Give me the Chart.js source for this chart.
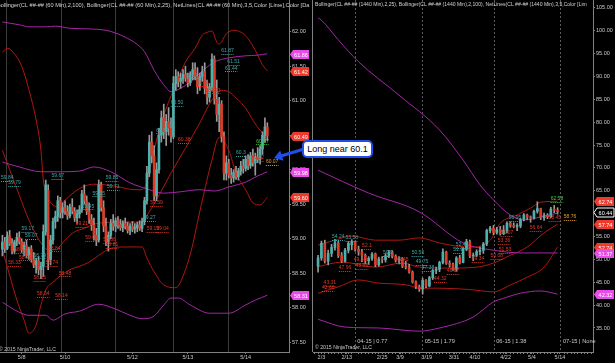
<!DOCTYPE html>
<html>
<head>
<meta charset="utf-8">
<script src="https://cdn.jsdelivr.net/npm/chart.js@4.4.1/dist/chart.umd.min.js"></script>
<style>
  body { margin: 0; background: #000; width: 615px; height: 363px; overflow: hidden; position: relative; font-family: "Liberation Sans", Arial, sans-serif; }
  #left { position: absolute; left: 0; top: 0; }
  #right { position: absolute; left: 311px; top: 0; }
  #arrow { position: absolute; left: 270px; top: 140px; }
  #note { position: absolute; left: 302px; top: 140px; width: 67px; height: 14px; background: #fff; border: 2px solid #1f4fe8; border-radius: 5px; font-size: 9px; line-height: 14px; text-align: center; color: #000; }
</style>
</head>
<body>
<canvas id="left" width="312" height="363"></canvas>
<canvas id="right" width="304" height="363"></canvas>
<svg id="arrow" width="40" height="25">
  <line x1="34" y1="9" x2="11" y2="16" stroke="#1f4fe8" stroke-width="3"/>
  <polygon points="4,18 13.5,20.8 10.2,10.6" fill="#1f4fe8"/>
</svg>
<div id="note">Long near 60.1</div>
<script>
// ---- 60 min panel (bar index 0..110) ----
const leftOpen = [58.85,58.95,58.86,59.04,58.93,58.82,58.95,59.02,58.96,58.84,
  58.90,58.76,58.85,58.70,58.62,58.68,58.55,58.60,59.10,59.70,
  58.70,58.98,59.25,59.32,59.55,59.38,59.45,59.40,59.33,59.46,
  59.40,59.30,59.36,59.42,59.65,59.55,59.40,59.28,59.20,59.05,
  58.98,59.78,59.45,59.18,58.96,59.05,59.22,59.18,59.26,59.20,
  59.16,59.22,59.18,59.12,59.18,59.14,59.16,59.20,59.15,59.25,
  59.55,59.95,60.40,60.20,59.62,60.00,60.50,60.75,60.55,60.70,
  60.60,60.48,61.25,61.35,61.28,61.32,61.38,61.33,61.26,61.38,
  61.45,61.35,61.20,61.35,61.42,61.18,61.05,61.20,61.60,61.02,
  60.80,60.95,60.48,59.95,60.10,59.92,59.88,59.96,59.90,59.98,
  60.05,60.02,60.15,60.06,60.20,60.10,60.18,60.15,60.30,60.50,60.62];
const leftHigh = [59.05,59.02,59.10,59.12,59.00,58.98,59.08,59.10,59.00,58.95,
  58.98,58.88,58.90,58.80,58.72,58.74,58.66,59.20,59.85,59.78,
  59.05,59.30,59.40,59.62,59.60,59.52,59.55,59.48,59.50,59.58,
  59.45,59.42,59.48,59.70,59.78,59.62,59.52,59.35,59.30,59.15,
  59.85,59.82,59.55,59.30,59.10,59.28,59.35,59.30,59.32,59.28,
  59.26,59.30,59.24,59.22,59.25,59.22,59.24,59.26,59.30,59.60,
  60.05,60.50,60.55,60.35,60.10,60.60,60.85,60.95,60.80,60.90,
  60.75,61.35,61.45,61.42,61.40,61.45,61.50,61.40,61.42,61.55,
  61.55,61.48,61.40,61.50,61.55,61.30,61.25,61.68,61.65,61.30,
  61.05,61.00,60.55,60.20,60.15,60.02,60.00,60.05,60.02,60.12,
  60.15,60.20,60.22,60.25,60.30,60.24,60.32,60.35,60.55,60.75,60.68];
const leftLow = [58.75,58.80,58.84,58.90,58.78,58.78,58.90,58.92,58.80,58.75,
  58.72,58.70,58.66,58.58,58.50,58.48,58.42,58.45,59.05,58.55,
  58.62,58.92,59.15,59.25,59.30,59.30,59.35,59.28,59.30,59.36,
  59.25,59.22,59.30,59.38,59.50,59.35,59.22,59.12,58.98,58.90,
  58.95,59.40,59.10,58.90,58.82,59.00,59.12,59.10,59.15,59.12,
  59.10,59.14,59.08,59.06,59.10,59.08,59.10,59.12,59.10,59.20,
  59.50,59.90,60.10,59.55,59.55,59.95,60.40,60.45,60.35,60.50,
  60.40,60.45,61.15,61.20,61.18,61.25,61.28,61.20,61.22,61.30,
  61.30,61.10,61.15,61.28,61.10,60.95,60.98,61.15,60.95,60.70,
  60.55,60.40,59.85,59.85,59.88,59.80,59.82,59.86,59.85,59.92,
  59.95,59.98,60.00,60.02,60.05,59.92,60.10,60.08,60.22,60.40,60.42];
const leftClose = [58.95,58.86,59.04,58.93,58.82,58.95,59.02,58.96,58.84,58.90,
  58.76,58.85,58.70,58.62,58.68,58.55,58.60,59.10,59.78,58.70,
  58.98,59.25,59.32,59.55,59.38,59.45,59.40,59.33,59.46,59.40,
  59.30,59.36,59.42,59.65,59.55,59.40,59.28,59.20,59.05,58.98,
  59.78,59.45,59.18,58.96,59.05,59.22,59.18,59.26,59.20,59.16,
  59.22,59.18,59.12,59.18,59.14,59.16,59.20,59.15,59.25,59.55,
  59.95,60.40,60.20,59.62,60.00,60.50,60.75,60.55,60.70,60.60,
  60.48,61.25,61.35,61.28,61.32,61.38,61.33,61.26,61.38,61.45,
  61.35,61.20,61.35,61.42,61.18,61.05,61.20,61.60,61.02,60.80,
  60.95,60.48,59.95,60.10,59.92,59.88,59.96,59.90,59.98,60.05,
  60.02,60.15,60.06,60.20,60.10,60.18,60.15,60.30,60.50,60.62,60.49];

// bollinger lines as [bar, price]
const leftRedUpper = [[0,61.70],[2,61.76],[5,61.68],[8,61.50],[11,61.16],[14,60.72],[16,60.28],[17,59.85],[19,59.59],[21,59.49],[23,59.46],[26,59.56],[30,59.68],[34,59.76],[38,59.79],[47,59.76],[55,59.71],[58,59.71],[60,59.82],[63,60.29],[67,60.79],[72,61.23],[76,61.56],[80,61.76],[83,61.95],[85,61.99],[87,62.01],[89,61.85],[90,61.82],[93,61.97],[96,62.02],[101,61.94],[105,61.73],[108,61.52],[110,61.43]];
const leftRedMid = [[0,60.28],[3,60.00],[7,59.63],[11,59.27],[16,58.94],[19,58.84],[22,58.84],[26,58.98],[30,59.10],[34,59.15],[38,59.21],[47,59.24],[58,59.24],[61,59.39],[65,59.63],[70,59.95],[76,60.31],[82,60.68],[87,61.01],[91,61.15],[94,61.13],[97,61.04],[101,60.89],[104,60.72],[107,60.57],[110,60.49]];
const leftRedLower = [[0,58.84],[3,58.47],[6,58.11],[9,57.82],[11,57.63],[14,57.75],[16,58.04],[18,58.26],[21,58.37],[24,58.46],[28,58.55],[32,58.60],[36,58.66],[40,58.76],[45,58.86],[51,58.88],[58,58.88],[60,58.72],[63,58.52],[67,58.33],[72,58.29],[76,58.55],[79,58.91],[81,59.24],[84,59.71],[87,60.14],[90,60.47],[94,60.28],[97,59.95],[101,59.71],[104,59.52],[107,59.49],[110,59.60]];
const leftMagUpper = [[0,62.14],[7,62.10],[11,62.07],[18,62.07],[22,62.08],[28,62.05],[36,62.04],[43,62.02],[47,61.98],[51,61.92],[55,61.84],[59,61.71],[63,61.44],[67,61.23],[70,61.13],[74,61.18],[78,61.27],[82,61.40],[88,61.56],[94,61.62],[101,61.65],[106,61.66],[110,61.68]];
const leftMagMid = [[0,60.11],[7,60.04],[16,59.97],[24,59.97],[32,59.98],[38,60.04],[45,59.97],[53,59.81],[61,59.71],[67,59.66],[74,59.68],[82,59.71],[88,59.69],[94,59.75],[101,59.82],[106,59.91],[110,59.97]];
const leftMagLower = [[0,58.08],[5,57.97],[11,57.89],[18,57.89],[21,57.82],[26,57.91],[32,57.95],[40,58.05],[47,57.98],[53,57.89],[58,57.84],[63,57.88],[67,58.04],[70,58.14],[73,58.14],[78,58.04],[86,57.92],[94,57.92],[101,58.04],[105,58.11],[110,58.18]];

const leftYTicks = [57.5,58,58.5,59,59.5,60,60.5,61,61.5,62];
const leftDateLabels = ['5/8','5/10','5/12','5/13','5/14'];
const leftDateAt = [8,26,54,77,101];
const leftDayLines = [1.5,24.5,47,71,94];
const leftTagText = ['61.86','61.42','60.49','59.98','59.60','58.31'];

// NetLines price notes: [bar, price position, text, kind]
const leftNet = [[2,59.88,'59.84','t'],[5,59.81,'59.79','t'],[23,59.91,'59.67','t'],[45.5,59.88,'59.85','t'],[46,59.75,'59.71','t'],[40,59.66,'59.55','t'],[35.5,59.47,'59.45','t'],[10.5,59.14,'59.17','t'],[12,59.04,'59.07','t'],[15.5,58.76,'58.79','t'],[61,59.30,'59.27','t'],[72.5,60.97,'60.50','t'],[66.5,60.57,'60.54','t'],[78.5,61.37,'61.17','t'],[93.5,61.72,'61.87','t'],[96,61.56,'61.51','t'],[95,61.47,'61.44','t'],[99,60.24,'60.3','t'],
  [7.5,58.84,'58.53','r'],[9.5,58.73,'58.42','r'],[5,58.65,'58.33','r'],[21.5,58.86,'58.84','r'],[20.5,58.65,'58.74','r'],[15.5,58.43,'58.55','r'],[26,58.50,'58.48','r'],[17,58.20,'58.34','r'],[24.5,58.17,'58.14','r'],[33,59.22,'59.21','r'],[37,59.01,'59.08','r'],[44.5,58.98,'58.86','r'],[45.5,58.91,'58.81','r'],[62.5,59.14,'59.19','r'],[66.5,59.14,'59.04','r'],[64,59.52,'59.59','r'],[75.5,60.43,'60.38','r'],[83,61.26,'61.14','r'],[88,61.15,'61.13','r'],[106,60.17,'60.12','r'],
  [108,60.41,'60.37','g'],[112,60.11,'60.07','o']];

// ---- 1440 min panel (bar index 1..72) ----
const rightOpen = [48.5,50.3,53.5,49.6,51.3,52.6,53.6,50.8,49.6,52.0,
  53.2,53.9,52.2,51.6,50.9,49.7,50.2,51.2,48.8,50.1,
  49.9,50.8,51.6,50.7,49.8,50.2,48.5,48.3,47.2,45.1,
  44.0,43.5,45.4,44.2,46.0,47.6,47.8,49.3,51.6,49.1,
  48.9,47.8,50.3,49.3,52.2,53.9,50.7,50.9,51.7,52.0,
  53.4,56.3,56.8,55.9,56.5,55.6,56.4,57.9,57.3,57.2,
  57.3,58.7,59.7,59.2,59.0,60.5,61.1,59.1,59.6,59.3,61.0,60.7];
const rightHigh = [50.9,54.0,54.2,52.0,53.3,54.4,54.0,51.5,52.4,53.9,
  54.3,54.0,52.9,52.2,51.2,50.6,51.5,51.4,50.5,50.6,
  51.2,52.0,51.9,51.0,50.6,50.4,49.6,48.9,47.5,45.3,
  44.4,45.9,45.6,46.3,47.8,48.3,49.6,52.3,51.8,49.7,
  49.2,50.6,50.9,52.6,54.4,54.2,51.4,52.1,52.7,53.7,
  56.6,57.2,57.4,57.0,57.2,57.4,58.2,58.2,58.0,57.8,
  59.0,60.0,59.9,59.5,60.8,62.6,61.2,60.1,60.0,61.4,61.8,61.3];
const rightLow = [47.2,49.8,49.2,48.8,50.6,52.0,50.4,49.3,49.4,51.4,
  52.1,51.8,50.9,49.5,49.0,48.9,49.8,48.4,48.5,49.2,
  49.4,50.4,50.3,49.4,49.0,48.2,47.9,47.0,44.8,43.6,
  43.0,42.4,43.8,44.0,45.6,46.9,47.3,49.0,48.9,48.3,
  47.6,47.4,49.0,49.2,51.9,50.4,49.7,50.6,51.0,51.3,
  53.0,55.8,55.4,55.5,55.3,55.4,55.8,57.0,56.9,56.3,
  56.9,58.4,58.7,58.1,58.8,60.1,58.7,58.5,58.9,59.1,60.2,59.9];
const rightClose = [50.3,53.5,49.6,51.3,52.6,53.6,50.8,49.6,52.0,53.5,
  53.9,52.2,51.6,50.9,49.7,50.2,51.2,48.8,50.1,49.9,
  50.8,51.6,50.7,49.8,50.2,48.5,48.3,47.2,45.1,44.0,
  43.5,45.4,44.2,46.0,47.6,47.8,49.3,51.6,49.1,48.9,
  47.8,50.3,49.3,52.2,53.9,50.7,50.9,51.7,52.0,53.4,
  56.3,56.8,55.9,56.5,55.6,56.4,57.9,57.3,57.2,57.3,
  58.7,59.7,59.2,59.0,60.5,61.1,59.1,59.6,59.3,61.0,60.7,60.44];

const rightRedUpper = [[1,53.1],[6,54.2],[11,55.1],[18,54.2],[25,54.2],[31,54.7],[37,53.6],[42,52.9],[47,52.7],[52,54.2],[55,57.9],[60,59.7],[64,61.2],[67,62.5],[72,62.7]];
const rightRedMid = [[1,48.4],[8,49.4],[18,48.3],[26,49.2],[31,48.3],[40,48.1],[48,48.3],[53,49.2],[58,50.9],[63,52.7],[68,55.8],[72,57.7]];
const rightRedLower = [[1,42.6],[7,44.0],[13,45.5],[19,44.8],[25,44.6],[28,44.3],[31,43.7],[37,43.7],[46,43.4],[53,42.9],[58,44.4],[63,46.1],[68,48.3],[72,52.7]];
const rightMagUpper = [[1,102.8],[2,102.3],[7,98.0],[13,93.2],[25,85.9],[37,78.3],[44,71.7],[49,66.3],[53,63.0],[58,59.7],[62,58.6],[67,59.3],[72,60.1]];
const rightMagMid = [[1,69.5],[16,64.5],[31,60.4],[44,53.6],[53,52.0],[62,51.4],[72,51.4]];
const rightMagLower = [[1,36.9],[9,35.2],[19,35.0],[31,34.3],[37,35.0],[47,37.4],[53,40.7],[56,41.5],[61,42.6],[67,43.1],[72,42.4]];

const rightYTicks = [35,40,45,50,55,60,65,70,75,80,85,90,95,100,105];
const rightDateLabels = ['2/3','2/13','2/25','3/9','3/19','3/31','4/10','4/22','5/4','5/14'];
const rightDateAt = [2,9.5,20,25.3,33.2,41.3,47.5,56.6,64.4,72.7];
const rightRollLines = [12,32,53.2,73];
const rightRollText = ['04-15 | 0.77','05-15 | 1.79','06-15 | 1.38','07-15 | None'];
const rightTagText = ['62.74','57.74','52.74','51.37','42.32','60.44'];

const rightNet = [[7,54.90,'54.24','t'],[11,54.68,'53.58','t'],[15.5,52.93,'52.1','r'],[13.4,49.87,'49.14','r'],[14,48.56,'48.56','r'],[9,48.12,'47.96','r'],[4.5,44.84,'43.31','r'],[4,43.75,'42.66','r'],[21.7,51.40,'50.9','t'],[26,49.87,'49.45','r'],[30.6,51.40,'50.56','t'],[31.8,49.43,'49.75','t'],[33.6,48.12,'47.38','t'],[37.2,45.71,'44.32','r'],[41,47.46,'48.87','r'],[43.7,53.15,'52.43','t'],[42.5,52.05,'51.1','t'],[48.4,50.09,'49.34','r'],[54,50.74,'50.08','r'],[56.4,52.05,'51.53','r'],[56.1,54.02,'53.36','r'],[59.4,59.05,'56.95','t'],[57,55.77,'56.07','r'],[65.6,56.86,'56.64','r'],[71.2,59.05,'58.45','r'],[71.8,63.20,'62.58','g'],[75.7,59.27,'58.76','o']];

const leftLegend = 'Bollinger(CL ##-## (60 Min),2,100), Bollinger(CL ##-## (60 Min),2,25), NetLines(CL ##-## (60 Min),3,5,Color [Lime],Color [Da';
const rightLegend = 'Bollinger(CL ##-## (1440 Min),2,25), Bollinger(CL ##-## (1440 Min),2,100), NetLines(CL ##-## (1440 Min),3,5,Color [Lim';
const copyright = '\u00a9 2015 NinjaTrader, LLC';

// ---- drawing ----
const FONT = '"Liberation Sans", Arial, sans-serif';
const RED_BAND = '#b01710', MAG_BAND = '#a526a8';
const UP = '#4db2ae', DOWN = '#dd3c27', WICK = '#9a9a9a';
const NET_COL = { t: '#3ea6a6', r: '#e2382a', g: '#3fd23f', o: '#e0a030' };
const TAG_RED = '#ee3a2c', TAG_MAG = '#e84ce8';

function pts(arr) { return arr.map(p => ({ x: p[0], y: p[1] })); }
function lastVal(arr) { return arr[arr.length - 1][1]; }

function candleSets(open, high, low, close, first, bodyW) {
  const idx = open.map((_, k) => k + first);
  return [
    { type: 'bar', order: 2, grouped: false, barThickness: 1, minBarLength: 1,
      data: idx.map((x, k) => ({ x, y: [low[k], high[k]] })), backgroundColor: WICK },
    { type: 'bar', order: 1, grouped: false, barThickness: bodyW, minBarLength: 1,
      data: idx.map((x, k) => ({ x, y: [open[k], close[k]] })),
      backgroundColor: close.map((c, k) => c >= open[k] ? UP : DOWN) }
  ];
}
function band(arr, color) {
  return { type: 'line', order: 3, data: pts(arr), borderColor: color, borderWidth: 1,
    pointRadius: 0, cubicInterpolationMode: 'monotone', fill: false };
}

function xAxis(min, max, labelAt, labels, lines, dashed, fine, lineCol) {
  const lab = new Map(labelAt.map((v, k) => [v, labels[k]]));
  const lineSet = new Set(lines);
  let vals = [...labelAt, ...lines];
  if (fine) for (let v = Math.ceil(min); v <= max; v++) vals.push(v);
  vals = [...new Set(vals)].sort((a, b) => a - b);
  return {
    type: 'linear', min, max, offset: false,
    afterBuildTicks: s => { s.ticks = vals.map(v => ({ value: v })); },
    afterFit: s => { s.height = 11; s.paddingLeft = 0; s.paddingRight = 0; },
    ticks: { autoSkip: false, maxRotation: 0, minRotation: 0, padding: 0, color: '#c8c8c8',
      font: { size: 5.5, family: FONT }, callback: v => lab.get(v) || '' },
    grid: { offset: false, tickLength: 2,
      color: c => (c.tick && lineSet.has(c.tick.value)) ? lineCol : 'rgba(0,0,0,0)',
      tickColor: c => (c.tick && (lab.has(c.tick.value) || (fine && !lineSet.has(c.tick.value)))) ? '#808080' : 'rgba(0,0,0,0)' },
    border: { color: '#808080', dash: dashed ? [2, 2] : [] }
  };
}
function yAxis(min, max, ticks, width) {
  return {
    position: 'right', min, max,
    afterBuildTicks: s => { s.ticks = ticks.map(v => ({ value: v })); },
    afterFit: s => { s.width = width; s.paddingTop = 0; s.paddingBottom = 0; },
    ticks: { color: '#c8c8c8', font: { size: 5.5, family: FONT }, padding: 1, callback: v => v.toFixed(2) },
    grid: { drawOnChartArea: false, tickLength: 2, tickColor: '#808080' },
    border: { color: '#808080' }
  };
}

function fitText(ctx, text, x, y, width, color) {
  ctx.font = '10px ' + FONT;
  const size = 10 * width / ctx.measureText(text).width;
  ctx.font = size.toFixed(2) + 'px ' + FONT;
  ctx.fillStyle = color; ctx.textAlign = 'left'; ctx.textBaseline = 'middle';
  ctx.fillText(text, x, y);
}
function drawTag(ctx, x, y, w, text, bg, fg, stroke) {
  ctx.beginPath();
  ctx.moveTo(x, y); ctx.lineTo(x + 3, y - 4.5); ctx.lineTo(x + w, y - 4.5);
  ctx.lineTo(x + w, y + 4.5); ctx.lineTo(x + 3, y + 4.5); ctx.closePath();
  ctx.fillStyle = bg; ctx.fill();
  if (stroke) { ctx.strokeStyle = stroke; ctx.lineWidth = 1; ctx.stroke(); }
  ctx.font = '5.5px ' + FONT; ctx.fillStyle = fg; ctx.textAlign = 'center'; ctx.textBaseline = 'middle';
  ctx.fillText(text, x + 3 + (w - 3) / 2, y + 0.5);
}

function overlay(cfg) {
  return {
    id: 'overlay',
    afterDatasetsDraw(chart) {
      const { ctx, scales: { x: sx, y: sy } } = chart;
      ctx.save();
      ctx.font = '5px ' + FONT; ctx.textAlign = 'center'; ctx.textBaseline = 'middle';
      ctx.lineWidth = 1; ctx.setLineDash([1, 1]);
      cfg.net.forEach(n => {
        const px = sx.getPixelForValue(n[0]), py = sy.getPixelForValue(n[1]);
        const col = NET_COL[n[3]], w = ctx.measureText(n[2]).width;
        ctx.fillStyle = col; ctx.fillText(n[2], px, py);
        ctx.strokeStyle = col; ctx.beginPath();
        ctx.moveTo(px - w / 2, Math.round(py + 3) + 0.5); ctx.lineTo(px + w / 2, Math.round(py + 3) + 0.5); ctx.stroke();
      });
      ctx.restore();
    },
    afterDraw(chart) {
      const { ctx, chartArea: a, scales: { x: sx, y: sy } } = chart;
      ctx.save();
      if (cfg.leftBorder) {
        ctx.strokeStyle = '#808080'; ctx.lineWidth = 1; ctx.beginPath();
        ctx.moveTo(a.left - 0.5, 0); ctx.lineTo(a.left - 0.5, a.bottom); ctx.stroke();
      }
      fitText(ctx, cfg.legend, cfg.legendX, 5, cfg.legendW, '#d2d2d2');
      fitText(ctx, copyright, cfg.copyX, cfg.copyY, 57, '#c8c8c8');
      (cfg.roll || []).forEach((t, k) => {
        ctx.font = '5.7px ' + FONT; ctx.fillStyle = '#c8c8c8'; ctx.textAlign = 'left'; ctx.textBaseline = 'middle';
        ctx.fillText(t, sx.getPixelForValue(cfg.rollAt[k]) + 2, 341);
      });
      cfg.tags.forEach(t => drawTag(ctx, a.right + 1, Math.round(sy.getPixelForValue(t.v)) + 0.5, cfg.tagW, t.text, t.bg, t.fg || '#fff', t.stroke));
      ctx.restore();
    }
  };
}

function makeChart(id, datasets, scales, padLeft, plug) {
  return new Chart(document.getElementById(id), {
    type: 'bar',
    data: { datasets },
    options: {
      responsive: false, animation: false, devicePixelRatio: 1,
      layout: { padding: { left: padLeft, right: 0, top: 0, bottom: 0 } },
      plugins: { legend: { display: false }, tooltip: { enabled: false } },
      scales
    },
    plugins: [plug]
  });
}

makeChart('left', [
  band(leftMagUpper, MAG_BAND), band(leftMagMid, MAG_BAND), band(leftMagLower, MAG_BAND),
  band(leftRedUpper, RED_BAND), band(leftRedMid, RED_BAND), band(leftRedLower, RED_BAND),
  ...candleSets(leftOpen, leftHigh, leftLow, leftClose, 0, 2)
], {
  x: xAxis(-1, 119, leftDateAt, leftDateLabels, leftDayLines, false, false, '#3c3c3c'),
  y: yAxis(57.358, 62.459, leftYTicks, 23)
}, 0, overlay({
  net: leftNet, legend: leftLegend, legendX: -3, legendW: 313, copyX: -1, copyY: 350, tagW: 19,
  tags: [
    { v: lastVal(leftMagUpper), text: leftTagText[0], bg: TAG_MAG },
    { v: lastVal(leftRedUpper), text: leftTagText[1], bg: TAG_RED },
    { v: lastVal(leftRedMid), text: leftTagText[2], bg: TAG_RED },
    { v: lastVal(leftMagMid), text: leftTagText[3], bg: TAG_MAG },
    { v: lastVal(leftRedLower), text: leftTagText[4], bg: TAG_RED },
    { v: lastVal(leftMagLower), text: leftTagText[5], bg: TAG_MAG }
  ]
}));

makeChart('right', [
  band(rightMagUpper, MAG_BAND), band(rightMagMid, MAG_BAND), band(rightMagLower, MAG_BAND),
  band(rightRedUpper, RED_BAND), band(rightRedMid, RED_BAND), band(rightRedLower, RED_BAND),
  ...candleSets(rightOpen, rightHigh, rightLow, rightClose, 1, 2)
], {
  x: xAxis(-0.5, 82.5, rightDateAt, rightDateLabels, rightRollLines, true, true, '#5a5a5a'),
  y: yAxis(29.75, 106.71, rightYTicks, 22)
}, 2, overlay({
  net: rightNet, legend: rightLegend, legendX: 4, legendW: 272, copyX: 4, copyY: 348, tagW: 20,
  leftBorder: true, roll: rightRollText, rollAt: rightRollLines,
  tags: [
    { v: lastVal(rightRedUpper), text: rightTagText[0], bg: TAG_RED },
    { v: lastVal(rightRedMid), text: rightTagText[1], bg: TAG_RED },
    { v: lastVal(rightRedLower), text: rightTagText[2], bg: TAG_RED },
    { v: lastVal(rightMagMid), text: rightTagText[3], bg: TAG_MAG },
    { v: lastVal(rightMagLower), text: rightTagText[4], bg: TAG_MAG },
    { v: rightClose[rightClose.length - 1], text: rightTagText[5], bg: '#000', fg: '#fff', stroke: '#fff' }
  ]
}));
</script>
</body>
</html>
